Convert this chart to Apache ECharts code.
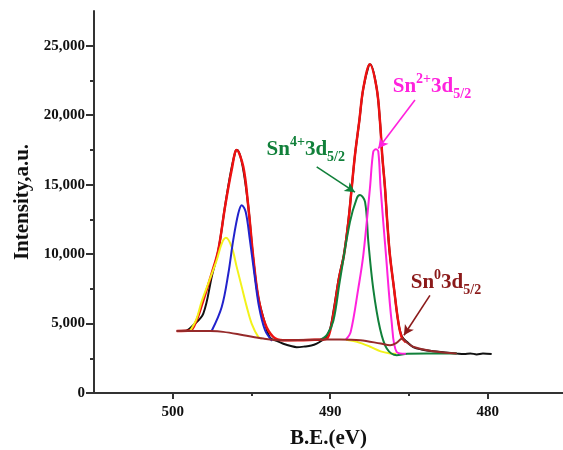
<!DOCTYPE html>
<html>
<head>
<meta charset="utf-8">
<script src="https://cdn.jsdelivr.net/npm/echarts@6/dist/echarts.min.js"></script>
<style>
  html, body { margin: 0; padding: 0; background: #fff; }
  #main { width: 563px; height: 450px; }
</style>
</head>
<body>
<div id="main"></div>
<script>
var serif = '"Liberation Serif", "Times New Roman", serif';

// [B.E. (eV), intensity] pairs
var rawData = [
  [499.75, 4470], [499.2, 4480], [498.7, 4880], [498.06, 5720], [497.5, 8500], [497.1, 10300],
  [496.7, 13300], [496.3, 16000], [496.0, 17450], [495.9, 17500], [495.55, 16250], [495.2, 13400],
  [494.9, 9800], [494.57, 6900], [494.14, 5000], [493.83, 4000], [493.4, 3750], [492.98, 3550],
  [492.5, 3380], [492.13, 3300], [491.6, 3350], [491.2, 3420], [490.86, 3560], [490.5, 3800],
  [490.22, 4035], [490.0, 4640], [489.75, 6200], [489.45, 8300], [489.13, 10000], [488.85, 12400],
  [488.64, 14730], [488.43, 17130], [488.16, 19530], [487.9, 21930], [487.55, 23600], [487.45, 23650],
  [487.05, 21930], [486.84, 19530], [486.7, 17130], [486.52, 14730], [486.38, 12320], [486.21, 9920],
  [485.95, 7520], [485.68, 5120], [485.46, 4100], [485.1, 3650], [484.73, 3310], [484.2, 3130],
  [483.46, 3000], [482.7, 2920], [481.97, 2840], [481.5, 2800], [481.1, 2850], [480.7, 2780],
  [480.3, 2840], [479.75, 2800]
];
var envelope = [
  [499.75, 4470], [498.9, 4500], [498.5, 5200], [498.16, 6300], [497.53, 8600], [497.11, 10280],
  [496.68, 13400], [496.26, 16050], [495.94, 17490], [495.52, 16280], [495.2, 13400], [494.89, 9800],
  [494.57, 6920], [494.14, 5000], [493.62, 4040], [493.0, 3800], [492.0, 3800], [491.0, 3830],
  [490.5, 3850], [490.22, 3900], [490.0, 4500], [489.75, 6000], [489.45, 8200], [489.13, 9920],
  [488.85, 12300], [488.64, 14730], [488.43, 17130], [488.16, 19530], [487.9, 21930], [487.48, 23660],
  [487.05, 21930], [486.84, 19530], [486.7, 17130], [486.52, 14730], [486.38, 12320], [486.21, 9920],
  [485.95, 7520], [485.68, 5120], [485.46, 4000], [485.2, 3650]
];
var sn4_3d32 = [
  [498.9, 4470], [498.5, 5300], [498.16, 6600], [497.74, 7900], [497.21, 9560], [496.89, 10760],
  [496.62, 11170], [496.26, 10520], [495.94, 9080], [495.62, 7640], [495.3, 6200], [494.99, 5000],
  [494.57, 4040], [494.35, 3920], '-',
  [489.0, 3830], [488.3, 3680], [487.5, 3350], [486.8, 3000], [486.2, 2850], [485.8, 2820]
];
var sn2_3d32 = [
  [497.53, 4467], [496.89, 6196], [496.47, 8603], [496.16, 11002], [495.84, 12925], [495.62, 13524],
  [495.37, 13041], [495.1, 11002], [494.82, 8603], [494.52, 6196], [494.14, 4518], [493.7, 3760]
];
var sn4_3d52 = [
  [490.65, 3800], [490.2, 4200], [489.8, 5200], [489.4, 8000], [488.75, 12300], [488.32, 14000],
  [488.11, 14250], [487.79, 13760], [487.58, 10880], [487.27, 7520], [486.84, 4640], [486.41, 3200],
  [485.78, 2720], [485.1, 2830], [481.97, 2840]
];
var sn2_3d52 = [
  [489.0, 3850], [488.7, 4400], [488.22, 7520], [487.9, 9920], [487.48, 14730], [487.27, 17360],
  [487.1, 17540], [486.95, 17400], [486.8, 14730], [486.46, 9920], [486.1, 5120], [485.78, 2950],
  [485.2, 2820]
];
var sn0Background = [
  [499.75, 4470], [498.7, 4470], [497.6, 4460], [496.8, 4400], [495.5, 4160], [494.25, 3920],
  [493.0, 3800], [491.3, 3840], [489.4, 3850], [488.1, 3800], [486.8, 3560], [486.2, 3440],
  [485.8, 3600], [485.45, 3900], [485.1, 3600], [484.7, 3310], [483.5, 3000], [481.97, 2840]
];

var xTicks = [500, 490, 480];
var xMinorTicks = [495, 485];
var yTicks = [0, 5000, 10000, 15000, 20000, 25000];
var yMinorTicks = [2500, 7500, 12500, 17500, 22500];

// annotation anchors: label left/middle point and arrow [from, to]
var sn2Label = [486.03, 22050];
var sn2Arrow = [[484.62, 21090], [486.95, 17600]];
var sn4Label = [494.04, 17540];
var sn4Arrow = [[490.86, 16280], [488.43, 14460]];
var sn0Label = [484.89, 7940];
var sn0Arrow = [[483.67, 7030], [485.32, 4160]];

var chart = echarts.init(document.getElementById('main'));

function richLabel(color) {
  return {
    m: { fontSize: 21, fontWeight: 'bold', fontFamily: serif, color: color },
    sup: { fontSize: 14, fontWeight: 'bold', fontFamily: serif, color: color, padding: [0, 0, 14, 0] },
    sub: { fontSize: 14, fontWeight: 'bold', fontFamily: serif, color: color, padding: [16, 0, 0, 0] }
  };
}

function annotate(pos, arrow, text, color) {
  return {
    markPoint: {
      silent: true, animation: false,
      symbol: 'circle', symbolSize: 0,
      label: {
        show: true, position: 'right', distance: 0,
        formatter: text, rich: richLabel(color)
      },
      data: [{ coord: pos }]
    },
    markLine: {
      silent: true, animation: false,
      symbol: ['none', 'arrow'], symbolSize: [8, 10],
      lineStyle: { color: color, width: 1.6, type: 'solid' },
      label: { show: false },
      emphasis: { disabled: true },
      data: [[{ coord: arrow[0] }, { coord: arrow[1] }]]
    }
  };
}

function curve(name, data, color, width, extra) {
  var s = {
    name: name, type: 'line', data: data,
    showSymbol: false, smooth: 0.35, connectNulls: false,
    lineStyle: { color: color, width: width },
    itemStyle: { color: color },
    animation: false, silent: true
  };
  if (extra) Object.assign(s, extra);
  return s;
}

var tickFont = { fontFamily: serif, fontWeight: 'bold', fontSize: 15, color: '#111' };
var nameFont = { fontFamily: serif, fontWeight: 'bold', fontSize: 21, color: '#111' };
var lineStyle = { color: '#333', width: 2 };

option = {
  backgroundColor: '#fff',
  grid: { left: 94, right: 0, top: 11, bottom: 57, outerBoundsMode: 'none' },
  xAxis: [
    {
      type: 'value', inverse: true, min: 475.22, max: 505,
      name: 'B.E.(eV)', nameLocation: 'middle', nameGap: 35, nameTextStyle: nameFont,
      axisLine: { show: true, onZero: false, lineStyle: lineStyle },
      axisTick: { show: true, length: 6, customValues: xTicks, lineStyle: { color: '#333', width: 2 } },
      axisLabel: Object.assign({ margin: 12, customValues: xTicks }, tickFont),
      splitLine: { show: false }
    },
    {
      type: 'value', inverse: true, min: 475.22, max: 505, position: 'bottom',
      axisLine: { show: false },
      axisTick: { show: true, length: 3, customValues: xMinorTicks, lineStyle: { color: '#333', width: 2 } },
      axisLabel: { show: false },
      splitLine: { show: false }
    }
  ],
  yAxis: [
    {
      type: 'value', min: 0, max: 27500,
      name: 'Intensity,a.u.', nameLocation: 'middle', nameRotate: 90, nameGap: 58, nameTextStyle: nameFont,
      axisLine: { show: true, lineStyle: lineStyle },
      axisTick: { show: true, length: 8, customValues: yTicks, lineStyle: { color: '#333', width: 2 } },
      axisLabel: Object.assign({
        margin: 9, customValues: yTicks,
        formatter: function (v) { return v.toLocaleString('en-US'); }
      }, tickFont),
      splitLine: { show: false }
    },
    {
      type: 'value', min: 0, max: 27500, position: 'left',
      axisLine: { show: false },
      axisTick: { show: true, length: 4, customValues: yMinorTicks, lineStyle: { color: '#333', width: 2 } },
      axisLabel: { show: false },
      splitLine: { show: false }
    }
  ],
  series: [
    curve('raw', rawData, '#111', 2),
    curve('envelope', envelope, '#ee1111', 2.5),
    curve('Sn4+ 3d3/2', sn4_3d32, '#f2f21a', 2),
    curve('Sn2+ 3d3/2', sn2_3d32, '#2222cc', 2),
    curve('Sn4+ 3d5/2', sn4_3d52, '#11803a', 2,
      annotate(sn4Label, sn4Arrow, '{m|Sn}{sup|4+}{m|3d}{sub|5/2}', '#11803a')),
    curve('Sn2+ 3d5/2', sn2_3d52, '#ff22dd', 2,
      annotate(sn2Label, sn2Arrow, '{m|Sn}{sup|2+}{m|3d}{sub|5/2}', '#ff22dd')),
    curve('Sn0 3d5/2', sn0Background, '#962a2a', 2,
      annotate(sn0Label, sn0Arrow, '{m|Sn}{sup|0}{m|3d}{sub|5/2}', '#8b1a1a'))
  ]
};

option && chart.setOption(option);
</script>
</body>
</html>
